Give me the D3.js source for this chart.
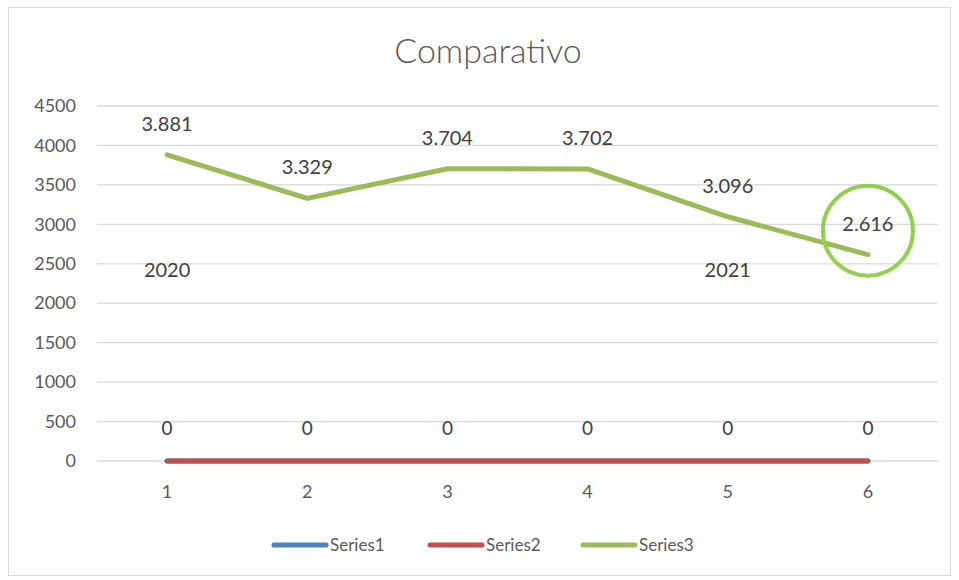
<!DOCTYPE html>
<html><head><meta charset="utf-8">
<script src="https://cdn.jsdelivr.net/npm/d3@7"></script>
<style>body{margin:0;background:#fff;font-family:Lato,"Open Sans",sans-serif;}</style>
</head><body><svg id="c" width="959" height="580"></svg>
<script>
const categories = ["1","2","3","4","5","6"];
const series1 = [0,0,0,0,0,0];
const series2 = [0,0,0,0,0,0];
const series3 = [3881,3329,3704,3702,3096,2616];
const series3Labels = ["3.881","3.329","3.704","3.702","3.096","2.616"];
const seriesNames = ["Series1","Series2","Series3"];
const yTicks = [0,500,1000,1500,2000,2500,3000,3500,4000,4500];
const annotations = [{cat:"1", value:2500, text:"2020"},{cat:"5", value:2500, text:"2021"}];
const highlightCat = "6";

const svg = d3.select("#c");
const W=959,H=580;
const m={l:97,r:21,t:106,b:119};
const colors=["#4F81BD","#C0504D","#9BBB59"];
const txt="#595959";

svg.append("rect").attr("x",8.5).attr("y",7.5).attr("width",W-17).attr("height",H-12).attr("fill","#fff").attr("stroke","#d9d9d9");

const x=d3.scaleBand().domain(categories).range([m.l,W-m.r]);
const y=d3.scaleLinear().domain([0,4500]).range([H-m.b,m.t]);
const cx=c=>x(c)+x.bandwidth()/2;

svg.append("g").selectAll("line").data(yTicks).join("line")
 .attr("x1",m.l).attr("x2",W-m.r).attr("y1",d=>y(d)).attr("y2",d=>y(d))
 .attr("stroke","#d9d9d9").attr("stroke-width",1.3);

const ya=svg.append("g").attr("transform",`translate(${m.l},0)`).call(d3.axisLeft(y).tickValues(yTicks).tickSize(0).tickPadding(21).tickFormat(d3.format("d")));
ya.select(".domain").remove();
ya.selectAll("text").attr("fill",txt).style("font-size","18px").style("font-family","Lato");

const xa=svg.append("g").attr("transform",`translate(0,${H-m.b})`).call(d3.axisBottom(x).tickSize(0).tickPadding(24));
xa.select(".domain").remove();
xa.selectAll("text").attr("fill",txt).style("font-size","18px").style("font-family","Lato");

svg.append("text").attr("x",488).attr("y",63).attr("text-anchor","middle")
 .attr("fill",txt).style("font-size","34px").style("font-weight","300").text("Comparativo");

const line=d3.line().x((d,i)=>cx(categories[i])).y(d=>y(d));
[series1,series2,series3].forEach((s,k)=>{
 svg.append("path").datum(s).attr("d",line).attr("fill","none").attr("stroke",colors[k])
  .attr("stroke-width",5).attr("stroke-linecap","round").attr("stroke-linejoin","round");
});

svg.append("g").selectAll("text").data(series2).join("text")
 .attr("x",(d,i)=>cx(categories[i])).attr("y",d=>y(d)-26).attr("text-anchor","middle")
 .attr("fill","#404040").style("font-size","19px").text(d=>d);

svg.append("g").selectAll("text").data(series3).join("text")
 .attr("x",(d,i)=>cx(categories[i])).attr("y",d=>y(d)-24).attr("text-anchor","middle")
 .attr("fill","#404040").style("font-size","20px").text((d,i)=>series3Labels[i]);

svg.append("g").selectAll("text").data(annotations).join("text")
 .attr("x",d=>cx(d.cat)).attr("y",d=>y(d.value)+13).attr("text-anchor","middle")
 .attr("fill","#404040").style("font-size","20px").text(d=>d.text);

const hi=categories.indexOf(highlightCat);
svg.append("circle").attr("cx",cx(highlightCat)).attr("cy",y(series3[hi])-24).attr("r",45)
 .attr("fill","none").attr("stroke","#92D050").attr("stroke-width",4);

const leg=svg.append("g");
const legX=[274,430,583];
seriesNames.forEach((n,k)=>{
 leg.append("line").attr("x1",legX[k]).attr("x2",legX[k]+52).attr("y1",545).attr("y2",545)
  .attr("stroke",colors[k]).attr("stroke-width",5).attr("stroke-linecap","round");
 leg.append("text").attr("x",legX[k]+56).attr("y",551).attr("fill",txt).style("font-size","17px").text(n);
});
</script></body></html>
